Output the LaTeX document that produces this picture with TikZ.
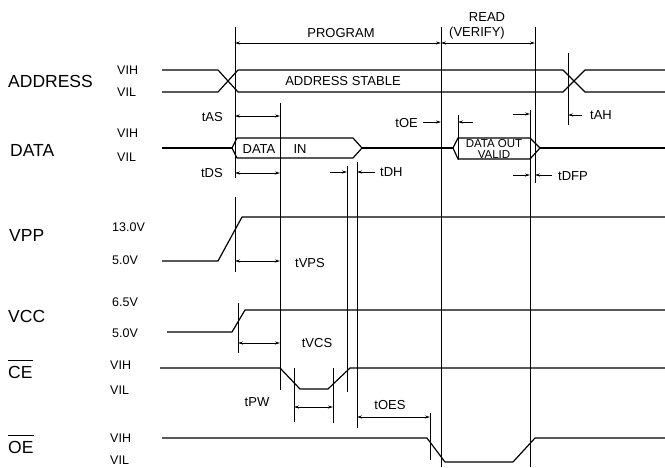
\documentclass[tikz,border=0pt]{standalone}
\usepackage{fontspec}
\setmainfont{Liberation Sans}
\usetikzlibrary{arrows.meta}

\begin{document}
\begin{tikzpicture}[x=1pt, y=-1pt,
    wave/.style = {line width=1.2pt, line join=round},
    vline/.style = {line width=0.9pt},
    span/.style = {line width=0.8pt,
      {Stealth[length=5pt,width=3pt]}-{Stealth[length=5pt,width=3pt]}},
    tick/.style = {line width=0.8pt, -{Stealth[length=5pt,width=3pt]}},
    signame/.style = {anchor=west, inner sep=0pt, font=\fontsize{17.5}{20}\selectfont},
    lvl/.style = {anchor=west, inner sep=0pt, font=\fontsize{12.5}{14}\selectfont},
    tlabel/.style = {inner sep=0pt, font=\fontsize{13}{15}\selectfont}]
  \useasboundingbox (0,0) rectangle (665,467);

  % signal names
  \node[signame] (address) at (8,81) {ADDRESS};
  \node[signame] (data) at (10,150) {DATA};
  \node[signame] (vpp) at (9,235) {VPP};
  \node[signame] (vcc) at (8,316) {VCC};
  \node[signame] (ce) at (8,372) {CE};
  \node[signame] (oe) at (8,447) {OE};
  \draw[line width=0.8pt] ([yshift=5pt]ce.north west) -- ([yshift=5pt]ce.north east);
  \draw[line width=0.8pt] ([yshift=5pt]oe.north west) -- ([yshift=5pt]oe.north east);

  % levels
  \foreach \x/\y/\t in {117/70/VIH, 117/92/VIL, 117/133/VIH, 117/157/VIL,
      112/227/13.0V, 112/260/5.0V, 112/302/6.5V, 112/333/5.0V,
      110/365/VIH, 110/390/VIL, 110/438/VIH, 110/460/VIL}
    \node[lvl] (lvl-\y) at (\x,\y) {\t};

  % waveforms
  \draw[wave] (162,70) -- (218,70) -- (238,92) -- (563,92) -- (585,70) -- (665,70);
  \draw[wave] (162,92) -- (218,92) -- (238,70) -- (563,70) -- (585,92) -- (665,92);
  \draw[wave] (162,148) -- (232,148);
  \draw[wave] (232,148) -- (237,138) -- (353,138) -- (362,148) -- (353,158) -- (237,158) -- cycle;
  \draw[wave] (362,148) -- (453,148);
  \draw[wave] (453,148) -- (458,138) -- (530,138) -- (540,148) -- (530,159) -- (458,159) -- cycle;
  \draw[wave] (540,148) -- (665,148);
  \draw[wave] (162,261) -- (218,261) -- (242,217) -- (665,217);
  \draw[wave] (167,332) -- (232,332) -- (245,310) -- (665,310);
  \draw[wave] (160,368) -- (280,368) -- (300,389) -- (328,389) -- (350,368) -- (665,368);
  \draw[wave] (162,438) -- (427,438) -- (445,462) -- (513,462) -- (535,438) -- (665,438);

  % timing references
  \draw[vline] (235,27) -- (235,178);
  \draw[vline] (235,197) -- (235,272);
  \draw[vline] (280,103) -- (280,390);
  \draw[vline] (347,166) -- (347,392);
  \draw[vline] (357,162) -- (357,428);
  \draw[vline] (441,27) -- (441,467);
  \draw[vline] (458,115) -- (458,160);
  \draw[vline] (530,110) -- (530,467);
  \draw[vline] (535,27) -- (535,183);
  \draw[vline] (568,53) -- (568,125);
  \draw[vline] (238,303) -- (238,353);
  \draw[vline] (294,368) -- (294,422);
  \draw[vline] (333,368) -- (333,423);
  \draw[vline] (430,413) -- (430,460);

  % intervals
  \draw[span] (235,43) -- (441,43);
  \draw[span] (441,43) -- (535,43);
  \draw[span] (235,116) -- (280,116);
  \draw[span] (235,173) -- (280,173);
  \draw[tick] (330,172) -- (347,172);
  \draw[tick] (375,172) -- (357,172);
  \draw[tick] (423,122) -- (441,122);
  \draw[tick] (473,122) -- (458,122);
  \draw[tick] (513,114) -- (530,114);
  \draw[tick] (513,175) -- (530,175);
  \draw[tick] (552,175) -- (535,175);
  \draw[tick] (582,115) -- (568,115);
  \draw[span] (235,261) -- (280,261);
  \draw[span] (238,343) -- (280,343);
  \draw[span] (294,407) -- (333,407);
  \draw[span] (357,417) -- (430,417);

  % labels
  \node[tlabel] (program) at (341,33) {PROGRAM};
  \node[tlabel] (read) at (487,17) {READ};
  \node[tlabel] (verify) at (477,33) {(VERIFY)};
  \node[tlabel] (stable) at (343,81) {ADDRESS STABLE};
  \node[tlabel, anchor=east] (tas) at (223,117) {tAS};
  \node[tlabel, anchor=east] (tds) at (223,173) {tDS};
  \node[tlabel] (datain) at (259,149) {DATA};
  \node[tlabel] (in) at (300,149) {IN};
  \node[tlabel, anchor=west] (tdh) at (380,172) {tDH};
  \node[tlabel, anchor=east] (toe) at (418,123) {tOE};
  \node[inner sep=0pt, align=center, font=\fontsize{11.5}{11}\selectfont] (dataout) at (494,149) {DATA OUT\\VALID};
  \node[tlabel, anchor=west] (tdfp) at (558,176) {tDFP};
  \node[tlabel, anchor=west] (tah) at (590,115) {tAH};
  \node[tlabel] (tvps) at (310,263) {tVPS};
  \node[tlabel] (tvcs) at (317,343) {tVCS};
  \node[tlabel] (tpw) at (257,402) {tPW};
  \node[tlabel] (toes) at (390,405) {tOES};
\end{tikzpicture}
\end{document}
